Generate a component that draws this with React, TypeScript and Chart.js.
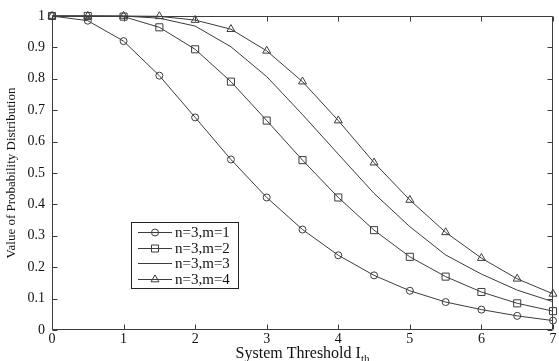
import React, { useEffect, useRef } from 'react';
import { Chart, registerables } from 'chart.js';

Chart.register(...registerables);

const thresholds = [0, 0.5, 1, 1.5, 2, 2.5, 3, 3.5, 4, 4.5, 5, 5.5, 6, 6.5, 7];
const seriesM1 = [1, 0.985, 0.92, 0.81, 0.677, 0.543, 0.422, 0.32, 0.238, 0.174, 0.125, 0.089, 0.065, 0.045, 0.03];
const seriesM2 = [1, 1, 0.998, 0.964, 0.894, 0.791, 0.667, 0.541, 0.422, 0.318, 0.233, 0.17, 0.121, 0.085, 0.06];
const seriesM3 = [1, 1, 1, 0.993, 0.968, 0.902, 0.807, 0.686, 0.56, 0.435, 0.329, 0.239, 0.178, 0.127, 0.09];
const seriesM4 = [1, 1, 1, 0.999, 0.987, 0.958, 0.889, 0.791, 0.667, 0.533, 0.414, 0.311, 0.229, 0.163, 0.115];
const seriesLabels = ['n=3,m=1', 'n=3,m=2', 'n=3,m=3', 'n=3,m=4'];
const seriesMarkers = ['circle', 'rect', 'none', 'triangle'];
const xAxisTitle = 'System Threshold I';
const xAxisSub = 'th';
const yAxisTitle = 'Value of Probability Distribution';

const INK = '#3c3c3c';
const FONT = '"Liberation Serif", "DejaVu Serif", serif';

function marker(ctx: CanvasRenderingContext2D, style: string, x: number, y: number) {
  ctx.beginPath();
  if (style === 'circle') {
    ctx.arc(x, y, 3.5, 0, Math.PI * 2);
  } else if (style === 'rect') {
    ctx.rect(x - 3.5, y - 3.5, 7, 7);
  } else if (style === 'triangle') {
    const r = 4.6;
    ctx.moveTo(x, y - r);
    ctx.lineTo(x + r * 0.866, y + r * 0.5);
    ctx.lineTo(x - r * 0.866, y + r * 0.5);
    ctx.closePath();
  } else {
    return;
  }
  ctx.stroke();
}

const decorPlugin = {
  id: 'decor',
  afterDatasetsDraw(chart: any) {
    const { ctx, chartArea: a, scales } = chart;
    const xs = scales.x;
    const ys = scales.y;
    ctx.save();
    ctx.strokeStyle = INK;
    ctx.lineWidth = 1;
    const L = Math.round(a.left) + 0.5;
    const R = Math.round(a.right) - 0.5;
    const T = Math.round(a.top) + 0.5;
    const B = Math.round(a.bottom) - 0.5;
    ctx.beginPath();
    ctx.rect(L, T, R - L, B - T);
    ctx.stroke();
    const tl = 5;
    ctx.beginPath();
    xs.ticks.forEach((t: any) => {
      const px = Math.round(xs.getPixelForValue(t.value)) + 0.5;
      ctx.moveTo(px, B);
      ctx.lineTo(px, B - tl);
      ctx.moveTo(px, T);
      ctx.lineTo(px, T + tl);
    });
    ys.ticks.forEach((t: any) => {
      const py = Math.round(ys.getPixelForValue(t.value)) + 0.5;
      ctx.moveTo(L, py);
      ctx.lineTo(L + tl, py);
      ctx.moveTo(R, py);
      ctx.lineTo(R - tl, py);
    });
    ctx.stroke();

    // legend
    const bx = 131.5, by = 222.5, bw = 107, bh = 66;
    ctx.fillStyle = '#fff';
    ctx.fillRect(bx, by, bw, bh);
    ctx.strokeStyle = '#222';
    ctx.strokeRect(bx, by, bw, bh);
    ctx.strokeStyle = INK;
    ctx.font = `15px ${FONT}`;
    ctx.textBaseline = 'middle';
    ctx.textAlign = 'left';
    chart.data.datasets.forEach((ds: any, i: number) => {
      const ly = Math.round(232 + i * 15.5) + 0.5;
      ctx.beginPath();
      ctx.moveTo(138, ly);
      ctx.lineTo(172, ly);
      ctx.stroke();
      marker(ctx, seriesMarkers[i], 155, ly);
      ctx.fillStyle = '#111';
      ctx.fillText(ds.label, 175, ly + 1);
    });

    // x title with subscript
    ctx.fillStyle = '#111';
    ctx.font = `16px ${FONT}`;
    const mainW = ctx.measureText(xAxisTitle).width;
    ctx.font = `11px ${FONT}`;
    const subW = ctx.measureText(xAxisSub).width;
    const cx = (a.left + a.right) / 2;
    const sx = cx - (mainW + subW) / 2;
    ctx.textBaseline = 'alphabetic';
    ctx.font = `16px ${FONT}`;
    ctx.fillText(xAxisTitle, sx, 358);
    ctx.font = `11px ${FONT}`;
    ctx.fillText(xAxisSub, sx + mainW, 362);
    ctx.restore();
  },
};

export default function App() {
  const ref = useRef<HTMLCanvasElement>(null);
  useEffect(() => {
    const mk = (vals: number[], i: number) => ({
      label: seriesLabels[i],
      data: thresholds.map((x, k) => ({ x, y: vals[k] })),
      borderColor: INK,
      borderWidth: 1,
      pointStyle: seriesMarkers[i] === 'none' ? 'circle' : seriesMarkers[i],
      pointRadius: seriesMarkers[i] === 'none' ? 0 : seriesMarkers[i] === 'rect' ? 5 : seriesMarkers[i] === 'triangle' ? 4.6 : 3.5,
      pointHoverRadius: 0,
      pointBorderWidth: 1,
      pointBorderColor: INK,
      pointBackgroundColor: 'rgba(0,0,0,0)',
      tension: 0,
      fill: false,
      clip: false as any,
    });
    const chart = new Chart(ref.current!, {
      type: 'line',
      data: {
        datasets: [mk(seriesM1, 0), mk(seriesM2, 1), mk(seriesM3, 2), mk(seriesM4, 3)],
      },
      options: {
        animation: false,
        responsive: false,
        devicePixelRatio: 1,
        layout: { padding: { top: 16, right: 1, left: 0, bottom: 0 } },
        plugins: { legend: { display: false }, tooltip: { enabled: false } },
        scales: {
          x: {
            type: 'linear',
            min: 0,
            max: 7,
            ticks: {
              stepSize: 1,
              autoSkip: false,
              maxRotation: 0,
              padding: 1,
              color: '#111',
              font: { family: FONT, size: 14 },
            },
            grid: { display: false, drawTicks: false },
            border: { display: false },
            afterFit: (s: any) => {
              s.height = 31;
            },
          },
          y: {
            min: 0,
            max: 1,
            ticks: {
              stepSize: 0.1,
              autoSkip: false,
              padding: 7,
              color: '#111',
              font: { family: FONT, size: 14 },
              callback: (v: any) => String(Math.round(Number(v) * 10) / 10),
            },
            grid: { display: false, drawTicks: false },
            border: { display: false },
            title: {
              display: true,
              text: yAxisTitle,
              color: '#111',
              font: { family: FONT, size: 13 },
              padding: { top: 4, bottom: 0 },
            },
            afterFit: (s: any) => {
              s.width = 52;
            },
          },
        },
      },
      plugins: [decorPlugin],
    });
    return () => chart.destroy();
  }, []);
  return (
    <div style={{ position: 'fixed', left: 0, top: 0, width: 559, height: 361, background: '#fff' }}>
      <canvas ref={ref} width={559} height={361} style={{ display: 'block', width: 559, height: 361 }} />
    </div>
  );
}
